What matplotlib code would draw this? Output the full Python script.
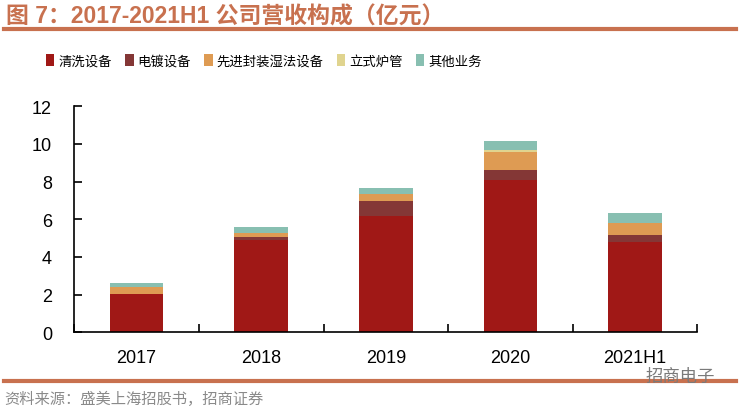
import matplotlib
matplotlib.use("Agg")
import matplotlib.pyplot as plt
import numpy as np
from matplotlib.lines import Line2D
from matplotlib.patches import Patch

plt.rcParams['font.family'] = ['Liberation Sans', 'Noto Sans CJK SC', 'DejaVu Sans']

categories = ["2017", "2018", "2019", "2020", "2021H1"]
series_names = ["清洗设备", "电镀设备", "先进封装湿法设备", "立式炉管", "其他业务"]
clean = [2.05, 4.90, 6.17, 8.08, 4.79]
plating = [0.00, 0.15, 0.80, 0.53, 0.37]
wet = [0.35, 0.23, 0.35, 0.99, 0.65]
furnace = [0.00, 0.00, 0.03, 0.07, 0.00]
other = [0.22, 0.31, 0.31, 0.48, 0.52]
yticks = [0, 2, 4, 6, 8, 10, 12]

colors = ["#a01816", "#843736", "#de9b53", "#e0d48f", "#88bfb1"]
title_color = "#c8714f"

fig = plt.figure(figsize=(7.4, 4.1), dpi=100)
ax = fig.add_axes([74.3 / 740, (410 - 333.3) / 410, (697.3 - 74.3) / 740, (333.3 - 107.3) / 410])

x = np.arange(len(categories))
bottom = np.zeros(len(categories))
for vals, c in zip([clean, plating, wet, furnace, other], colors):
    ax.bar(x, vals, width=0.43, bottom=bottom, color=c, linewidth=0, zorder=2)
    bottom += np.array(vals)

ax.set_xlim(-0.5, len(categories) - 0.5)
ax.set_ylim(0, 12)
ax.set_yticks(yticks)
ax.set_yticklabels([str(v) for v in yticks], fontsize=13)
ax.set_xticks(x)
ax.set_xticklabels(categories, fontsize=13)
ax.tick_params(axis='x', length=0, pad=12)
ax.set_xticks(np.arange(-0.5, len(categories), 1.0), minor=True)
ax.tick_params(axis='x', which='minor', direction='in', length=6, width=1.2)
ax.tick_params(axis='y', direction='in', length=6, width=1.2, pad=16)
for s in ['top', 'right']:
    ax.spines[s].set_visible(False)
for s in ['left', 'bottom']:
    ax.spines[s].set_linewidth(1.2)

# title
fig.text(6 / 740, 1 - 17 / 410, "图 7：2017-2021H1 公司营收构成（亿元）", fontsize=16.5,
         fontweight='bold', color=title_color, va='center', ha='left',
         family=['Liberation Sans', 'Noto Sans CJK SC'])
fig.add_artist(Line2D([4 / 740, 736 / 740], [1 - 30 / 410] * 2, color=title_color, linewidth=3))
fig.add_artist(Line2D([4 / 740, 736 / 740], [1 - 382 / 410] * 2, color=title_color, linewidth=3))

# legend
handles = [Patch(facecolor=c, edgecolor='none') for c in colors]
fig.legend(handles, series_names, loc='center', bbox_to_anchor=(264 / 740, 1 - 62 / 410),
           ncol=5, frameon=False, handlelength=0.62, handleheight=1.0,
           handletextpad=0.3, columnspacing=1.0, prop={'family': 'Noto Sans CJK SC', 'size': 9.6})

# source
fig.text(4 / 740, 1 - 399 / 410, "资料来源：盛美上海招股书，招商证券", fontsize=11, color="#8a8a8a",
         va='center', ha='left', family=['Noto Sans CJK SC'])
fig.text(646 / 740, 1 - 377 / 410, "招商电子", fontsize=12.5, color="#7a7a7a",
         va='center', ha='left', family=['Noto Sans CJK SC'])

fig.savefig("out.png", dpi=100)
